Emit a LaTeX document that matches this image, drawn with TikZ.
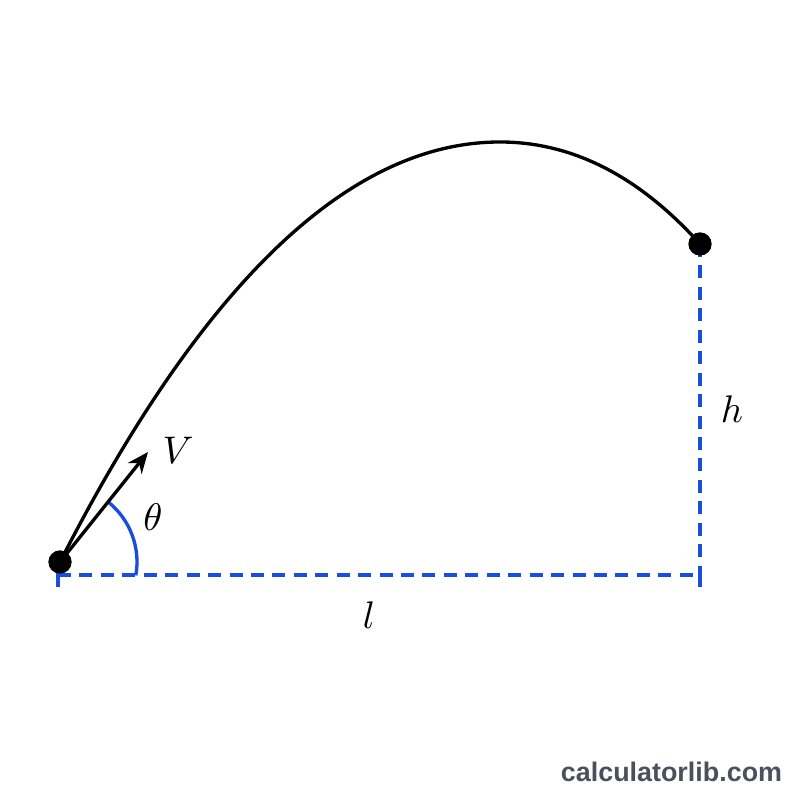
\documentclass[tikz,border=0pt]{standalone}
\usepackage{fontspec}
\newfontfamily\sitefont{Liberation Sans}
\usetikzlibrary{arrows.meta}
\definecolor{dimblue}{RGB}{24,78,222}
\definecolor{sitegray}{RGB}{74,80,92}

\begin{document}
\begin{tikzpicture}[dot/.style = {draw, fill = black, color = black, circle, inner sep=2.2pt}, dim/.style = {dimblue, line width=0.95pt, dash pattern=on 3.7pt off 2.4pt}, lbl/.style = {font=\fontsize{10.5}{12}\selectfont}, >={Stealth[length=6pt,width=5pt]}]
				\useasboundingbox (0,0) rectangle (8,8);
				\coordinate (O) at (0.60,2.38);
				\coordinate (P) at (5.00,6.58);
				\coordinate (E) at (7.00,5.56);
				\coordinate (V) at (1.48,3.48);
				\coordinate (L) at (0.58,2.25);
				\coordinate (R) at (7.00,2.25);
				\coordinate (Lt) at (0.58,2.13);
				\coordinate (Rt) at (7.00,2.13);
				\draw[dim] (L) -- (R);
				\draw[dim] (E) -- (R);
				\draw[dimblue, line width=0.95pt] (L) ++(0,0.03) -- (Lt) (R) -- (Rt);
				\draw[line width=0.95pt] (O) .. controls (2.03,5.18) and (3.50,6.58) .. (P)
					.. controls (5.72,6.58) and (6.39,6.24) .. (E);
				\draw[dimblue, line width=0.95pt] (O) ++(51:0.77) arc[start angle=51, end angle=-10, radius=0.77];
				\draw[->, line width=0.95pt] (O) -- (V);
				\node[dot] at (O) {};
				\node[dot] at (E) {};
				\node[lbl] (Vlab) at (1.78,3.50) {$V$};
				\node[lbl] (th) at (1.53,2.83) {$\theta$};
				\node[lbl] (hlab) at (7.32,3.91) {$h$};
				\node[lbl] (llab) at (3.69,1.85) {$l$};
				\node[text=sitegray, font=\sitefont\bfseries\fontsize{7.65}{9}\selectfont] (site) at (6.715,0.28) {calculatorlib.com};
			\end{tikzpicture}
\end{document}
